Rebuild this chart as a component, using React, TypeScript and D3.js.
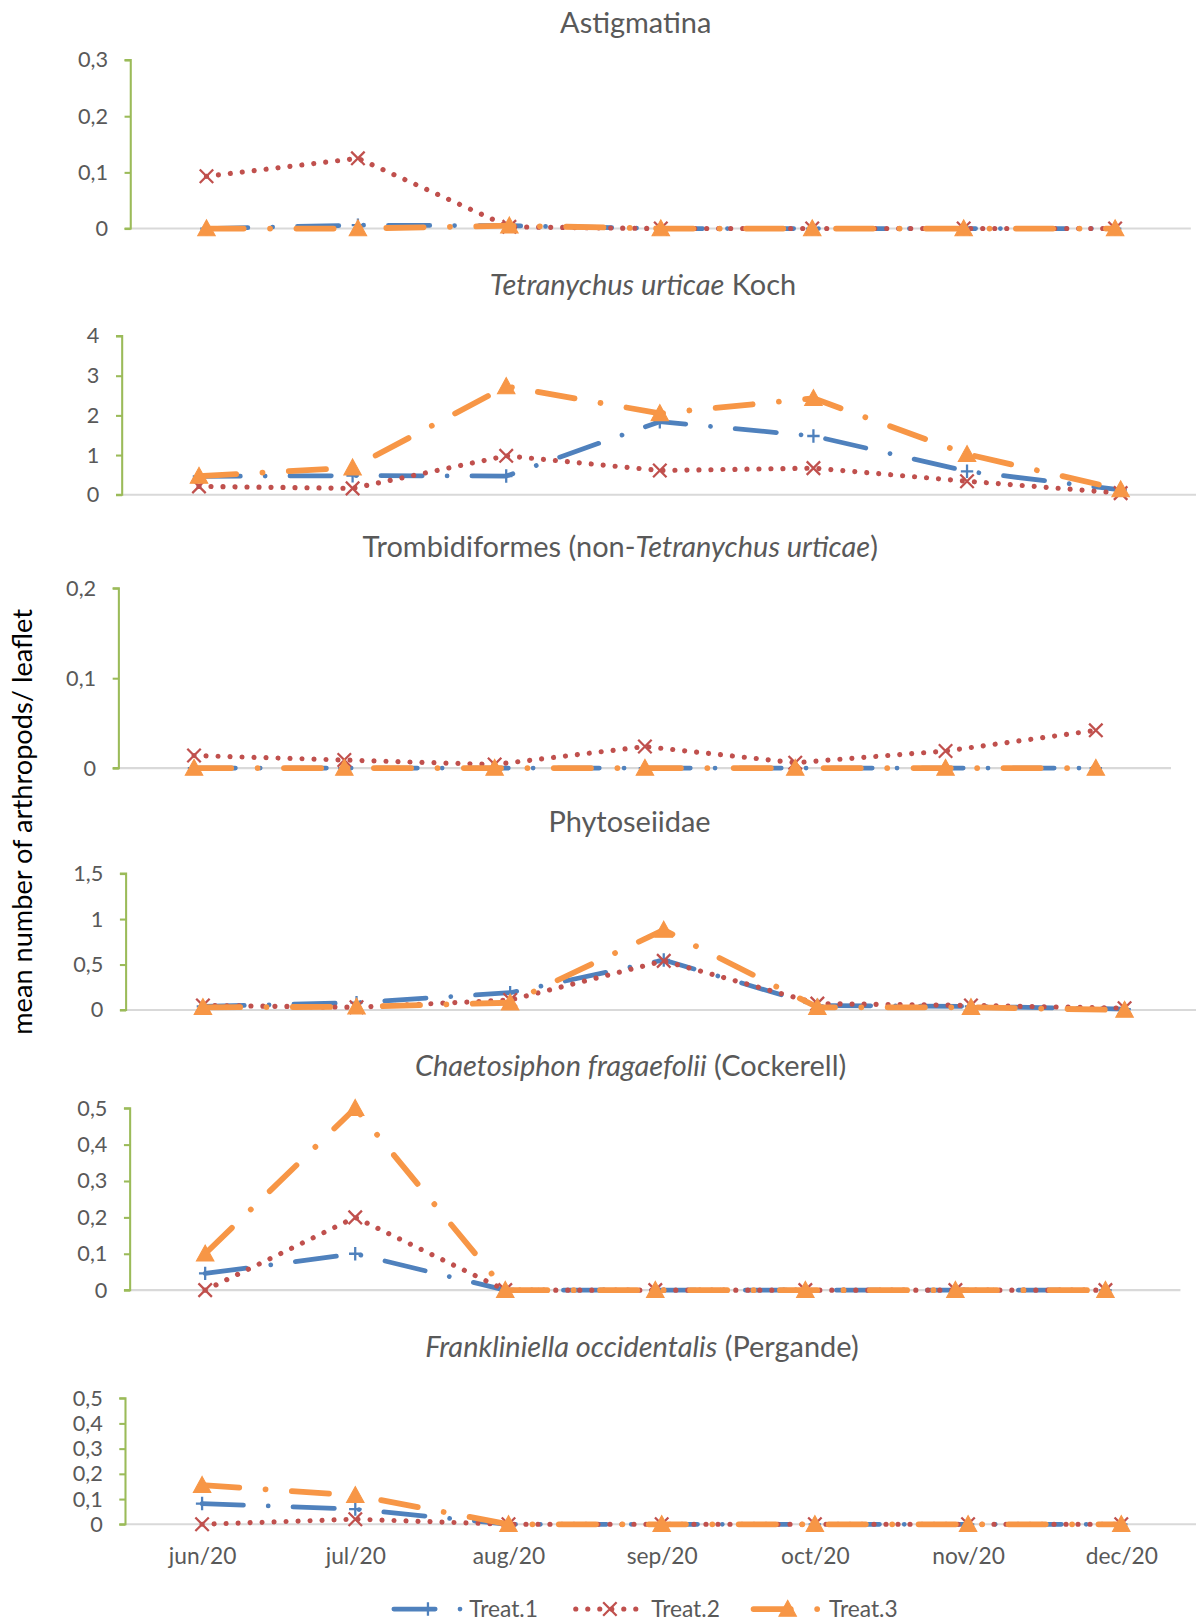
import {useEffect, useRef} from "react";
import * as d3 from 'd3'

const months = ["jun/20", "jul/20", "aug/20", "sep/20", "oct/20", "nov/20", "dec/20"]
const seriesNames = ["Treat.1", "Treat.2", "Treat.3"]

// Astigmatina
const astigT1 = [0, 0.006, 0.005, 0, 0, 0, 0]
const astigT2 = [0.093, 0.125, 0.003, 0, 0, 0, 0]
const astigT3 = [0, 0, 0.005, 0, 0, 0, 0]
const astigTicks = [0, 0.1, 0.2, 0.3]

// Tetranychus urticae
const tetraT1 = [0.46, 0.48, 0.47, 1.84, 1.48, 0.59, 0.12]
const tetraT2 = [0.21, 0.16, 0.98, 0.61, 0.67, 0.34, 0.04]
const tetraT3 = [0.47, 0.68, 2.73, 2.05, 2.43, 1.02, 0.13]
const tetraTicks = [0, 1, 2, 3, 4]

// Trombidiformes
const trombT1 = [0, 0, 0, 0, 0, 0, 0]
const trombT2 = [0.014, 0.009, 0.004, 0.024, 0.006, 0.019, 0.042]
const trombT3 = [0, 0, 0, 0, 0, 0, 0]
const trombTicks = [0, 0.1, 0.2]

// Phytoseiidae
const phytoT1 = [0.04, 0.08, 0.19, 0.55, 0.05, 0.04, 0.01]
const phytoT2 = [0.05, 0.03, 0.11, 0.54, 0.07, 0.05, 0.02]
const phytoT3 = [0.03, 0.035, 0.08, 0.88, 0.03, 0.03, 0]
const phytoTicks = [0, 0.5, 1, 1.5]

// Chaetosiphon fragaefolii
const chaetT1 = [0.046, 0.1, 0, 0, 0, 0, 0]
const chaetT2 = [0, 0.2, 0, 0, 0, 0, 0]
const chaetT3 = [0.1, 0.5, 0, 0, 0, 0, 0]
const chaetTicks = [0, 0.1, 0.2, 0.3, 0.4, 0.5]

// Frankliniella occidentalis
const frankT1 = [0.082, 0.06, 0, 0, 0, 0, 0]
const frankT2 = [0, 0.02, 0, 0, 0, 0, 0]
const frankT3 = [0.155, 0.115, 0, 0, 0, 0, 0]
const frankTicks = [0, 0.1, 0.2, 0.3, 0.4, 0.5]

const colors = ["#4F81BD", "#C0504D", "#F79646"]
const widths = [4.6, 5, 5.6]
const dashes = ["40 24 0.01 24", "0.01 11.6", "36 25.5 0.01 25.5"]
const textColor = "#595959"
const font = "Lato, 'Open Sans', sans-serif"

// title pieces: [text, italic]
const panels = [
    {title: [["Astigmatina", false]], data: [astigT1, astigT2, astigT3], ticks: astigTicks,
        left: 126.5, band: 146.5, top: 58, bottom: 221, titleX: 615, titleY: 22},
    {title: [["Tetranychus urticae", true], [" Koch", false]], data: [tetraT1, tetraT2, tetraT3], ticks: tetraTicks,
        left: 118.2, band: 148.6, top: 325, bottom: 478.5, titleX: 622, titleY: 276},
    {title: [["Trombidiformes (non-", false], ["Tetranychus urticae", true], [")", false]], data: [trombT1, trombT2, trombT3], ticks: trombTicks,
        left: 115, band: 145.4, top: 569, bottom: 743, titleX: 600, titleY: 529},
    {title: [["Phytoseiidae", false]], data: [phytoT1, phytoT2, phytoT3], ticks: phytoTicks,
        left: 122, band: 148.6, top: 845, bottom: 977, titleX: 609, titleY: 795},
    {title: [["Chaetosiphon fragaefolii", true], [" (Cockerell)", false]], data: [chaetT1, chaetT2, chaetT3], ticks: chaetTicks,
        left: 125.9, band: 145.15, top: 1072, bottom: 1248, titleX: 610, titleY: 1031},
    {title: [["Frankliniella occidentalis", true], [" (Pergande)", false]], data: [frankT1, frankT2, frankT3], ticks: frankTicks,
        left: 121.4, band: 148.2, top: 1352.5, bottom: 1474.5, titleX: 621, titleY: 1303},
]

const fmt = (v: number) => d3.format("~g")(v).replace(".", ",")

const drawMarker = (g: any, i: number, x: number, y: number) => {
    if (i === 0) {
        g.append("path").attr("d", `M${x - 6},${y}H${x + 6}M${x},${y - 6.5}V${y + 6.5}`)
            .attr("stroke", colors[0]).attr("stroke-width", 2.2).attr("fill", "none")
    } else if (i === 1) {
        g.append("path").attr("d", `M${x - 6.5},${y - 6.5}L${x + 6.5},${y + 6.5}M${x - 6.5},${y + 6.5}L${x + 6.5},${y - 6.5}`)
            .attr("stroke", colors[1]).attr("stroke-width", 2.2).attr("fill", "none")
    } else {
        g.append("path").attr("d", `M${x},${y - 8.5}L${x + 8.5},${y + 7}L${x - 8.5},${y + 7}Z`)
            .attr("fill", colors[2]).attr("stroke", colors[2]).attr("stroke-width", 1)
    }
}

const App = () => {
    const svgRef = useRef<SVGSVGElement>(null)

    useEffect(() => {
        const svg = d3.select(svgRef.current)
        svg.selectAll("*").remove()

        panels.forEach((p, pi) => {
            const g = svg.append("g")
            const x = d3.scalePoint<string>().domain(months)
                .range([p.left + p.band / 2, p.left + p.band * 6.5])
            const y = d3.scaleLinear().domain([0, d3.max(p.ticks) as number]).range([p.bottom, p.top])
            const right = p.left + p.band * 7

            // title
            const t = g.append("text").attr("x", p.titleX).attr("y", p.titleY).attr("dy", "0.35em")
                .attr("text-anchor", "middle").attr("font-size", 28).attr("fill", textColor)
            p.title.forEach(([s, it]) => {
                t.append("tspan").text(s as string).attr("font-style", it ? "italic" : "normal")
            })

            // baseline
            g.append("line").attr("x1", p.left).attr("x2", right).attr("y1", y(0)).attr("y2", y(0))
                .attr("stroke", "#D9D9D9").attr("stroke-width", 2)

            // y axis
            const yAxis = d3.axisLeft(y).tickValues(p.ticks).tickSize(6).tickPadding(16).tickFormat((d: any) => fmt(d))
            const ag = g.append("g").attr("transform", `translate(${p.left},0)`).call(yAxis)
            ag.select(".domain").attr("stroke", "#9BBB59").attr("stroke-width", 2)
                .attr("d", `M-6,${p.top}H0V${p.bottom}H-6`)
            ag.selectAll(".tick line").attr("stroke", "#9BBB59").attr("stroke-width", 2)
            ag.selectAll(".tick text").attr("font-size", 21).attr("fill", textColor).attr("font-family", font)

            // x labels on last panel
            if (pi === panels.length - 1) {
                const xAxis = d3.axisBottom(x).tickSize(0).tickPadding(0)
                const xg = g.append("g").attr("transform", `translate(0,1505)`).call(xAxis)
                xg.select(".domain").remove()
                xg.selectAll(".tick text").attr("font-size", 22).attr("fill", textColor)
                    .attr("font-family", font).attr("dy", "0.35em")
            }

            // series
            p.data.forEach((vals, si) => {
                const line = d3.line<number>().x((d, i) => x(months[i]) as number).y(d => y(d))
                g.append("path").attr("d", line(vals)).attr("fill", "none")
                    .attr("stroke", colors[si]).attr("stroke-width", widths[si])
                    .attr("stroke-dasharray", dashes[si]).attr("stroke-linecap", "round").attr("stroke-linejoin", "round")
                vals.forEach((v, i) => drawMarker(g, si, x(months[i]) as number, y(v)))
            })
        })

        // y title
        svg.append("text").attr("transform", "translate(22,795) rotate(-90)").attr("dy", "0.35em")
            .attr("text-anchor", "middle").attr("font-size", 26.3).attr("fill", "#000")
            .text("mean number of arthropods/ leaflet")

        // legend
        const legX = [381, 557, 729]
        seriesNames.forEach((name, si) => {
            const lg = svg.append("g")
            const x0 = legX[si]
            lg.append("path").attr("d", d3.line()([[x0, 1556.5], [x0 + 66, 1556.5]]))
                .attr("fill", "none").attr("stroke", colors[si]).attr("stroke-width", widths[si])
                .attr("stroke-dasharray", dashes[si]).attr("stroke-linecap", "round")
            drawMarker(lg, si, x0 + 33, 1556.5)
            lg.append("text").attr("x", x0 + 73).attr("y", 1556.5).attr("dy", "0.35em")
                .attr("font-size", 22).attr("fill", textColor).text(name)
        })
    }, [])

    return (
        <svg ref={svgRef} width={1196} height={1621} viewBox="0 0 1157 1568"
             style={{position: "absolute", left: 0, top: 0, background: "#fff"}}
             fontFamily={font}>
        </svg>
    )
}

export default App
